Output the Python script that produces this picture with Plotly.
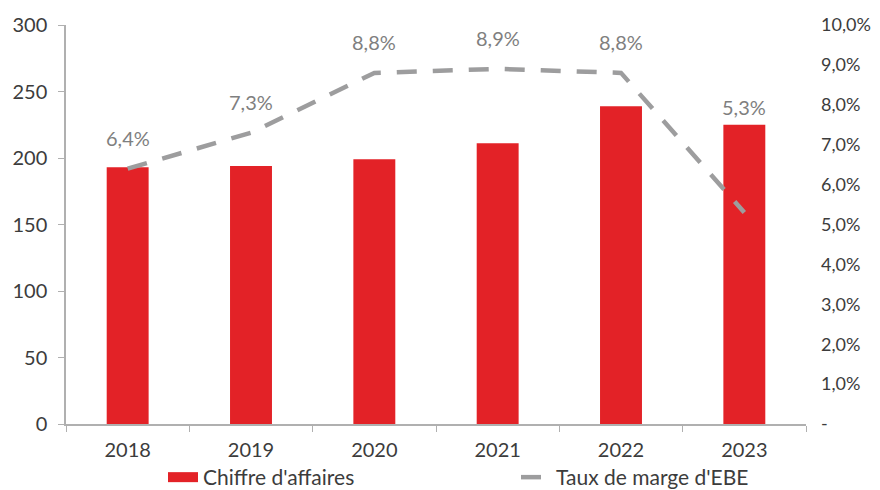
import plotly.graph_objects as go

years = ["2018", "2019", "2020", "2021", "2022", "2023"]
chiffre_affaires = [193, 194, 199, 211, 239, 225]
taux_marge = [6.4, 7.3, 8.8, 8.9, 8.8, 5.3]
left_ticks = [0, 50, 100, 150, 200, 250, 300]
right_tickvals = [0, 1, 2, 3, 4, 5, 6, 7, 8, 9, 10]
right_ticktext = ["-", "1,0%", "2,0%", "3,0%", "4,0%", "5,0%", "6,0%", "7,0%", "8,0%", "9,0%", "10,0%"]

FONT = "Lato"
RED = "#e32227"
GREY = "#9d9d9e"
TXT = "#3c3c3c"
fig = go.Figure()
fig.add_trace(go.Bar(x=years, y=chiffre_affaires, name="Chiffre d'affaires",
                     marker=dict(color=RED, line=dict(width=0)), yaxis="y",
                     showlegend=False))
# legend-only entry giving a wide red swatch like the original
fig.add_trace(go.Scatter(x=[None], y=[None], name="Chiffre d'affaires", mode="lines",
                         line=dict(color=RED, width=12), legend="legend"))
fig.add_trace(go.Scatter(x=years, y=taux_marge, name="Taux de marge d'EBE", mode="lines",
                         line=dict(color=GREY, width=4.5, dash="20px,16px"), yaxis="y2",
                         legend="legend2"))

for i, v in enumerate(taux_marge):
    label = f"{v:.1f}".replace(".", ",") + "%"
    if i == len(years) - 1:
        fig.add_annotation(x=i, y=chiffre_affaires[i], xref="x", yref="y", text=label,
                           showarrow=False, yshift=18, font=dict(family=FONT, size=20, color="#7f7f7f"))
    else:
        fig.add_annotation(x=i, y=v, xref="x", yref="y2", text=label,
                           showarrow=False, yshift=31, font=dict(family=FONT, size=20, color="#7f7f7f"))

legend_common = dict(orientation="h", xref="container", yref="container", xanchor="left",
                     y=0.0, yanchor="bottom", bgcolor="rgba(0,0,0,0)",
                     font=dict(family=FONT, size=21, color=TXT))
fig.update_layout(
    width=880, height=490,
    margin=dict(l=58, r=82, t=17, b=74, autoexpand=False),
    plot_bgcolor="white", paper_bgcolor="white",
    bargap=0.66,
    font=dict(family=FONT, size=20, color=TXT),
    showlegend=True,
    legend=dict(x=155 / 880, **legend_common),
    legend2=dict(x=508 / 880, **legend_common),
    xaxis=dict(type="category", range=[-0.5, len(years) - 0.5], showline=True,
               linecolor="#b0b0b0", linewidth=1.5, ticks="outside",
               tickcolor="#b0b0b0", ticklen=6, tickson="boundaries", showgrid=False,
               ticklabelstandoff=7),
    yaxis=dict(range=[0, 300], tickvals=left_ticks, showline=True, linecolor="#b0b0b0",
               linewidth=1.5, ticks="outside", tickcolor="#b0b0b0", ticklen=6,
               showgrid=False, zeroline=False, ticklabelstandoff=7),
    yaxis2=dict(range=[0, 10], overlaying="y", side="right", tickvals=right_tickvals,
                ticktext=right_ticktext, showline=False, showgrid=False, zeroline=False,
                ticks="", ticklabelstandoff=14, tickfont=dict(family=FONT, size=18, color=TXT)),
)
fig.write_html("out.html")
